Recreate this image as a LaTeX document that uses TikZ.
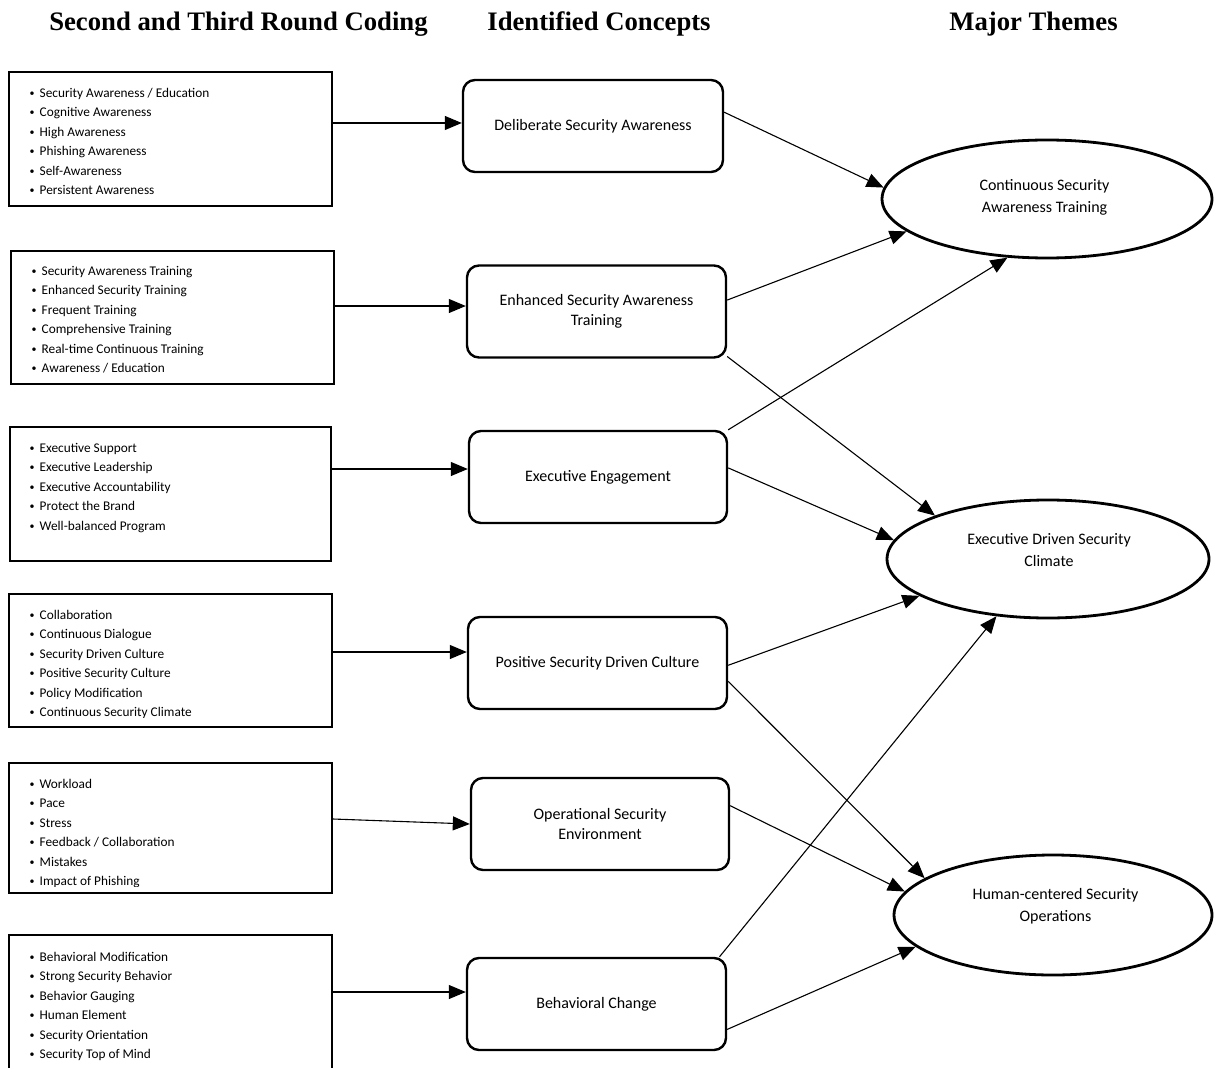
\documentclass[tikz,border=0pt]{standalone}
\usepackage{fontspec}
\setmainfont{Carlito}
\newfontfamily\hdfont{Liberation Serif}
\usetikzlibrary{arrows.meta,shapes.geometric,calc}
\newcommand{\bul}{\makebox[10.5pt][l]{\hspace{0.5pt}\raisebox{1pt}{\scalebox{0.75}{•}}}}
\begin{document}
\begin{tikzpicture}[x=1pt,y=-1pt,
  hd/.style={font=\hdfont\bfseries\fontsize{26.7}{30}\selectfont, inner sep=0, anchor=base},
  lbox/.style={draw, line width=2pt, inner sep=0},
  item/.style={font=\fontsize{13.3}{16}\selectfont, inner sep=0, anchor=base west},
  mbox/.style={draw, line width=2.4pt, rounded corners=12pt, minimum width=259pt, minimum height=92pt, align=center, inner sep=0, font=\fontsize{16}{20}\selectfont},
  ell/.style={draw, ellipse, line width=2.8pt, inner sep=0},
  etext/.style={font=\fontsize{16}{22}\selectfont, align=center, inner sep=0},
  conn/.style={line width=1.1pt, -{Triangle[length=17pt,width=14pt]}}
]
\useasboundingbox (0,0) rectangle (1214,1067);

% headers
\node[hd] (h1) at (238.5,31) {Second and Third Round Coding};
\node[hd] (h2) at (599,31) {Identified Concepts};
\node[hd] (h3) at (1033.5,31) {Major Themes};

% left boxes
\node[lbox, minimum width=323pt, minimum height=134pt] (l1) at (170.5,139) {};
\node[lbox, minimum width=323pt, minimum height=133pt] (l2) at (172.5,317.5) {};
\node[lbox, minimum width=321pt, minimum height=134pt] (l3) at (170.5,494) {};
\node[lbox, minimum width=323pt, minimum height=133pt] (l4) at (170.5,660.5) {};
\node[lbox, minimum width=323pt, minimum height=130pt] (l5) at (170.5,828) {};
\node[lbox, minimum width=323pt, minimum height=145pt] (l6) at (170.5,1007.5) {};

\foreach \t [count=\i] in {Security Awareness / Education, Cognitive Awareness, High Awareness, Phishing Awareness, Self-Awareness, Persistent Awareness}
  \node[item] (l1-\i) at (29,{97.5+19.4*(\i-1)}) {\bul\t};
\foreach \t [count=\i] in {Security Awareness Training, Enhanced Security Training, Frequent Training, Comprehensive Training, Real-time Continuous Training, Awareness / Education}
  \node[item] (l2-\i) at (31,{275.5+19.4*(\i-1)}) {\bul\t};
\foreach \t [count=\i] in {Executive Support, Executive Leadership, Executive Accountability, Protect the Brand, Well-balanced Program}
  \node[item] (l3-\i) at (29,{452.5+19.4*(\i-1)}) {\bul\t};
\begin{scope}
\clip (0,594) rectangle (332,717);
\foreach \t [count=\i] in {Collaboration, Continuous Dialogue, Security Driven Culture, Positive Security Culture, Policy Modification, Continuous Security Climate}
  \node[item] (l4-\i) at (29,{619.5+19.4*(\i-1)}) {\bul\t};
\end{scope}
\begin{scope}
\clip (0,763) rectangle (332,886);
\foreach \t [count=\i] in {Workload, Pace, Stress, Feedback / Collaboration, Mistakes, Impact of Phishing}
  \node[item] (l5-\i) at (29,{788.5+19.4*(\i-1)}) {\bul\t};
\end{scope}
\foreach \t [count=\i] in {Behavioral Modification, Strong Security Behavior, Behavior Gauging, Human Element, Security Orientation, Security Top of Mind}
  \node[item] (l6-\i) at (29,{961.5+19.4*(\i-1)}) {\bul\t};

% middle boxes
\node[mbox, minimum width=260pt] (m1) at (593,126) {Deliberate Security Awareness};
\node[mbox] (m2) at (596.5,311.5) {Enhanced Security Awareness\\Training};
\node[mbox, minimum width=258pt] (m3) at (598,477) {Executive Engagement};
\node[mbox] (m4) at (597.5,663) {Positive Security Driven Culture};
\node[mbox, minimum width=258pt] (m5) at (600,824) {Operational Security\\Environment};
\node[mbox] (m6) at (596.5,1004) {Behavioral Change};

% ellipses
\node[ell, minimum width=330pt, minimum height=118pt] (e1) at (1047,199) {};
\node[ell, minimum width=322pt, minimum height=118pt] (e2) at (1048,559) {};
\node[ell, minimum width=318pt, minimum height=120pt] (e3) at (1053,915) {};
\node[etext] (e1t) at (1044.5,197) {Continuous Security\\Awareness Training};
\node[etext] (e2t) at (1049,550) {Executive Driven Security\\Climate};
\node[etext] (e3t) at (1055.5,906.5) {Human-centered Security\\Operations};

% left to middle connectors
\coordinate (a1) at ($(l1.north east)+(0,52)$);
\coordinate (a2) at ($(l2.north east)+(0,56)$);
\coordinate (a3) at ($(l3.north east)+(0,43)$);
\coordinate (a4) at ($(l4.north east)+(0,59)$);
\coordinate (a5) at ($(l5.north east)+(0,57)$);
\coordinate (a6) at ($(l6.north east)+(0,58)$);
\draw[conn] (a1) -- (a1 -| m1.west);
\draw[conn] (a2) -- (a2 -| m2.west);
\draw[conn] (a3) -- (a3 -| m3.west);
\draw[conn] (a4) -- (a4 -| m4.west);
\draw[conn] (a5) -- (m5.west);
\draw[conn] (a6) -- (a6 -| m6.west);

% middle to themes
\draw[conn] (m1.6) -- (e1.176);
\draw[conn] (m2.5) -- (e1.193);
\draw[conn] (m2.341) -- (e2.159);
\draw[conn] (m3.north east) -- (e1.236);
\draw[conn] (m3.4) -- (e2.173);
\draw[conn] (m4.359) -- (e2.196);
\draw[conn] (m4.352) -- (e3.164);
\draw[conn] (m5.8) -- (e3.171);
\draw[conn] (m6.21) -- (e2.228);
\draw[conn] (m6.349) -- (e3.193);
\end{tikzpicture}
\end{document}
